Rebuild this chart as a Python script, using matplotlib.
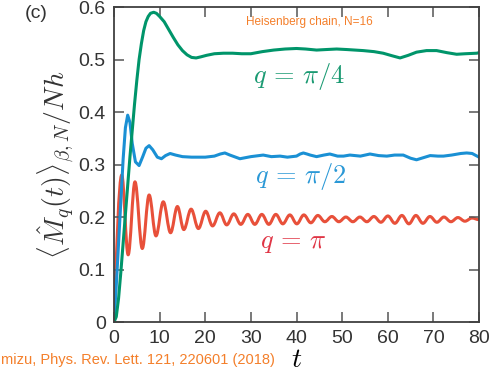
import matplotlib
matplotlib.use("Agg")
import matplotlib.pyplot as plt
from matplotlib.path import Path
from matplotlib.patches import PathPatch

plt.rcParams['mathtext.fontset'] = 'cm'
plt.rcParams['font.family'] = ['Liberation Sans', 'DejaVu Sans']

# q = pi/4 (green)
t_g = [0, 0.5, 1, 1.5, 2, 2.5, 3, 3.5, 4, 4.5, 5, 5.5, 6, 6.5, 7, 7.5, 8, 8.7, 9.3, 10,
       11, 12, 13, 14, 15, 16, 17, 18, 19, 20.3, 22, 24, 26, 28, 30, 32.5, 35, 37.5, 40,
       42, 44.4, 46.5, 48.8, 51, 54.6, 57, 59, 61, 62.7, 64.5, 66.3, 68.5, 70.7, 73, 75.1,
       77, 79.5, 80]
m_g = [0, 0.01, 0.045, 0.095, 0.15, 0.205, 0.26, 0.315, 0.365, 0.415, 0.46, 0.5, 0.53,
       0.555, 0.572, 0.582, 0.588, 0.59, 0.588, 0.582, 0.572, 0.557, 0.542, 0.528, 0.517,
       0.509, 0.504, 0.503, 0.505, 0.508, 0.511, 0.512, 0.512, 0.511, 0.511, 0.515, 0.518,
       0.52, 0.521, 0.52, 0.518, 0.519, 0.52, 0.519, 0.517, 0.515, 0.512, 0.507, 0.503,
       0.508, 0.514, 0.517, 0.517, 0.513, 0.51, 0.511, 0.512, 0.513]

# q = pi/2 (blue)
t_b = [0, 0.5, 1, 1.5, 2, 2.5, 3.0, 3.5, 4.0, 4.7, 5.5, 6.3, 7.0, 7.7, 8.5, 9.5, 10.4,
       11.3, 12.3, 13.5, 15, 17, 20, 22, 23.3, 24.3, 25.4, 27.6, 30, 32.7, 34.5, 36.4, 38,
       40, 40.8, 41.5, 42.3, 43, 44.4, 46, 47.3, 49, 50.3, 51.7, 54, 56.1, 58, 59.8, 61.5,
       63.4, 65, 66.3, 67.8, 69.3, 71, 72.2, 74, 76, 77.3, 78.5, 80]
m_b = [0, 0.07, 0.15, 0.23, 0.31, 0.37, 0.394, 0.38, 0.34, 0.305, 0.298, 0.315, 0.331,
       0.336, 0.328, 0.314, 0.311, 0.317, 0.321, 0.318, 0.315, 0.314, 0.314, 0.316, 0.320,
       0.322, 0.318, 0.311, 0.315, 0.318, 0.315, 0.316, 0.314, 0.316, 0.320, 0.322, 0.320,
       0.318, 0.315, 0.318, 0.32, 0.316, 0.316, 0.318, 0.316, 0.32, 0.317, 0.316, 0.318,
       0.318, 0.312, 0.309, 0.313, 0.317, 0.316, 0.316, 0.318, 0.321, 0.322, 0.321, 0.314]

# q = pi (red): start, then alternating peaks and troughs
t_r = [0, 1.7, 3.1, 4.6, 6.2, 7.7, 9.2, 10.8, 12.4, 13.9, 15.3, 16.9, 18.5, 20.1, 21.6,
       23.2, 24.7, 26.26, 27.79, 29.33, 30.86, 32.4, 33.93, 35.47, 37.0, 38.54, 40.07,
       41.61, 43.14, 44.68, 46.21, 47.75, 49.28, 50.82, 52.35, 53.89, 55.42, 56.96, 58.49,
       60.03, 61.56, 63.1, 64.63, 66.17, 67.7, 69.24, 70.77, 72.31, 73.84, 75.38, 76.91,
       78.45, 80]
m_r = [0, 0.28, 0.128, 0.267, 0.14, 0.242, 0.164, 0.229, 0.17, 0.22, 0.176, 0.215, 0.178,
       0.211, 0.183, 0.208, 0.185, 0.206, 0.186, 0.205, 0.186, 0.205, 0.186, 0.205, 0.187,
       0.204, 0.187, 0.204, 0.189, 0.203, 0.191, 0.201, 0.191, 0.200, 0.191, 0.200, 0.191,
       0.201, 0.190, 0.202, 0.188, 0.203, 0.187, 0.203, 0.188, 0.201, 0.190, 0.200, 0.191,
       0.199, 0.192, 0.198, 0.195]

x_ticks = [0, 10, 20, 30, 40, 50, 60, 70, 80]
y_ticks = [0, 0.1, 0.2, 0.3, 0.4, 0.5, 0.6]
y_tick_labels = ['0', '0.1', '0.2', '0.3', '0.4', '0.5', '0.6']

c_green = '#00956a'
c_blue = '#1a90d4'
c_red = '#e8503a'
c_orange = '#f47f2a'
c_axis = '#404040'

fig = plt.figure(figsize=(4.92, 3.75), dpi=100)
ax = fig.add_axes([0.2317, 0.1413, 0.7419, 0.84])

lw = 2.2

# red: smooth curve through the listed extrema (horizontal tangents at extrema)
verts = [(t_r[0], m_r[0])]
codes = [Path.MOVETO]
for i in range(1, len(t_r)):
    t0, y0 = t_r[i - 1], m_r[i - 1]
    t1, y1 = t_r[i], m_r[i]
    dt = t1 - t0
    if i == 1:
        c1 = (t0 + 0.3 * dt, y0 + 0.45 * (y1 - y0))
    else:
        c1 = (t0 + 0.36 * dt, y0)
    c2 = (t1 - 0.36 * dt, y1)
    verts += [c1, c2, (t1, y1)]
    codes += [Path.CURVE4] * 3
ax.add_patch(PathPatch(Path(verts, codes), facecolor='none', edgecolor=c_red, lw=lw,
                       joinstyle='round', capstyle='round'))
ax.plot(t_b, m_b, color=c_blue, lw=lw, solid_joinstyle='round')
ax.plot(t_g, m_g, color=c_green, lw=lw, solid_joinstyle='round')

ax.set_xlim(0, 80)
ax.set_ylim(0, 0.6)
ax.set_xticks(x_ticks)
ax.set_yticks(y_ticks)
ax.set_yticklabels(y_tick_labels)
ax.tick_params(direction='in', top=True, right=True, length=7, width=1.1,
               color='#555555', labelsize=14, labelcolor='#333333', pad=6)
for s in ax.spines.values():
    s.set_color(c_axis)
    s.set_linewidth(1.3)

ax.set_xlabel(r'$t$', fontsize=20, labelpad=0)
ax.set_ylabel(r'$\langle\hat{M}_q(t)\rangle_{\beta,N}/Nh$', fontsize=20, color='#333333',
              labelpad=2)


def fig_text(px, py, s, **kw):
    fig.text(px / 492.0, 1 - py / 375.0, s, **kw)


fig_text(299, 76, r'$q\,=\,\pi/4$', fontsize=19, color='#1a9a72', ha='center', va='center')
fig_text(301, 177, r'$q\,=\,\pi/2$', fontsize=19, color='#2a98d6', ha='center', va='center')
fig_text(293, 243, r'$q\,=\,\pi$', fontsize=19, color='#e03545', ha='center', va='center')
fig_text(309, 22, 'Heisenberg chain, N=16', fontsize=8.5, color=c_orange,
         ha='center', va='center')
fig_text(1, 360, 'mizu, Phys. Rev. Lett. 121, 220601 (2018)', fontsize=10.5,
         color=c_orange, ha='left', va='center')
fig_text(36, 14, '(c)', fontsize=14, color='#333333', ha='center', va='center')

fig.savefig('out.png', dpi=100)
